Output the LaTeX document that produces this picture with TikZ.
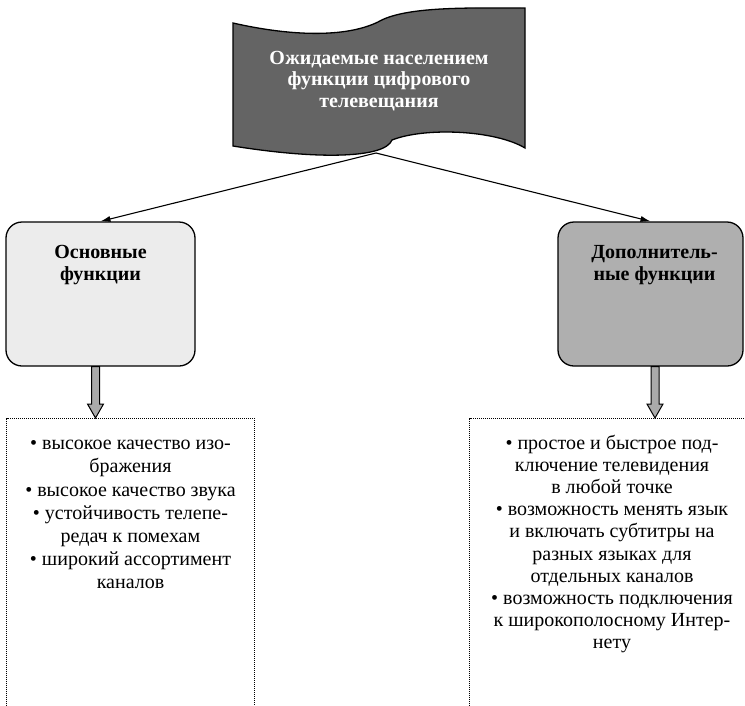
\documentclass[tikz,border=0pt]{standalone}
\usepackage{fontspec}
\setmainfont{Liberation Serif}
\usetikzlibrary{positioning,arrows.meta,calc}
\definecolor{bannergray}{RGB}{100,100,100}
\definecolor{lightfill}{RGB}{236,236,236}
\definecolor{midfill}{RGB}{175,175,175}
\definecolor{arrowfill}{RGB}{170,170,170}

\tikzset{
  fnbox/.style={draw,line width=1.3pt,rounded corners=16pt,minimum width=189pt,minimum height=144pt},
  ttl/.style={font=\fontsize{20}{21.7}\selectfont\bfseries,align=center,inner sep=0pt},
  items/.style={font=\fontsize{20}{#1}\selectfont,align=center,inner sep=0pt},
  con/.style={line width=1.1pt,-{Latex[length=10pt,width=6pt]}},
  fatarr/.style={draw,line width=1pt,fill=arrowfill},
  dotbox/.style={line width=0.9pt,dash pattern=on 1pt off 1pt},
  frame/.style={minimum width=#1,minimum height=300pt,inner sep=0pt}
}

\begin{document}
\begin{tikzpicture}[x=1pt,y=-1pt]
\useasboundingbox (0,0) rectangle (745,705);
% banner
\draw[line width=1.3pt,fill=bannergray] (233,23) .. controls (290,36) and (345,38) .. (378,22)
    .. controls (405,6) and (470,8) .. (525,8) -- (525,148)
    .. controls (495,130) and (425,127) .. (392,140)
    .. controls (385,158) and (320,160) .. (233,146) -- cycle;
\node[ttl,text=white] (ban) at (379,81) {Ожидаемые населением\\функции цифрового\\телевещания};
\coordinate (root) at (376,153);

% function boxes
\node[fnbox,fill=lightfill] (osn) at (100.5,294) {};
\node[fnbox,fill=midfill,minimum width=185pt] (dop) at (650.5,294) {};
\node[ttl,below=24pt of osn.north] (osnT) {Основные\\функции};
\node[ttl,below=24pt of dop.north,xshift=4pt] (dopT) {Дополнитель-\\ные функции};

\draw[con] (root) -- (osn.north);
\draw[con] (root) -- (dop.north);

% list frames
\node[frame=247pt,anchor=north] (lst1) at (130.5,418) {};
\node[frame=284pt,anchor=north] (lst2) at (612,418) {};
\draw[dotbox] (lst1.south west) -- (lst1.north west) -- (lst1.north east) -- (lst1.south east);
\draw[dotbox] (lst2.south west) -- (lst2.north west) -- (lst2.north east);

% fat arrows
\coordinate (a1) at ($(osn.south)+(-5,0)$);
\coordinate (a2) at ($(dop.south)+(4.5,0)$);
\draw[fatarr] ($(a1)+(-4,0)$) -- ($(a1|-lst1.north)+(-4,-14)$) -- ++(-4,0) -- (a1|-lst1.north)
    -- ++(8,-14) -- ++(-4,0) -- ($(a1)+(4,0)$) -- cycle;
\draw[fatarr] ($(a2)+(-4,0)$) -- ($(a2|-lst2.north)+(-4,-14)$) -- ++(-4,0) -- (a2|-lst2.north)
    -- ++(8,-14) -- ++(-4,0) -- ($(a2)+(4,0)$) -- cycle;

% lists
\node[items=23.2,below=22pt of lst1.north] (txt1) {• высокое качество изо-\\бражения\\• высокое качество звука\\• устойчивость телепе-\\редач к помехам\\• широкий ассортимент\\каналов};
\node[items=22.1,below=17pt of lst2.north] (txt2) {• простое и быстрое под-\\ключение телевидения\\в любой точке\\• возможность менять язык\\и включать субтитры на\\разных языках для\\отдельных каналов\\• возможность подключения\\к широкополосному Интер-\\нету};
\end{tikzpicture}
\end{document}
